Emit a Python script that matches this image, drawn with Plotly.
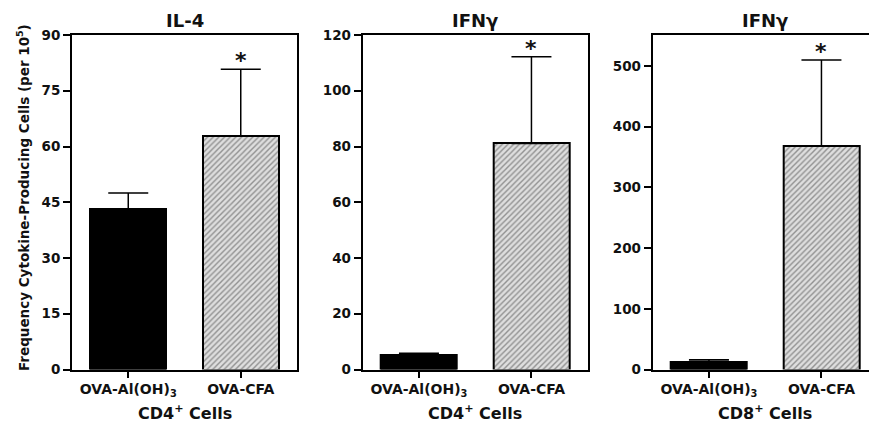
import plotly.graph_objects as go

# ---- data ----
groups = ["OVA-Al(OH)<sub>3</sub>", "OVA-CFA"]
panel_titles = ["IL-4", "IFN\u03b3", "IFN\u03b3"]
cell_types = ["CD4<sup>+</sup> Cells", "CD4<sup>+</sup> Cells", "CD8<sup>+</sup> Cells"]
il4_cd4 = [43.2, 62.8]
il4_cd4_err = [4.3, 18.0]
ifng_cd4 = [5.2, 81.1]
ifng_cd4_err = [0.6, 31.1]
ifng_cd8 = [13.0, 368.0]
ifng_cd8_err = [3.0, 142.0]
significance = ["", "*"]
y_max = [90, 120, 551]
y_ticks = [[0, 15, 30, 45, 60, 75, 90],
           [0, 20, 40, 60, 80, 100, 120],
           [0, 100, 200, 300, 400, 500]]
y_title = "Frequency Cytokine-Producing Cells (per 10<sup>5</sup>)"

values = [il4_cd4, ifng_cd4, ifng_cd8]
errors = [il4_cd4_err, ifng_cd4_err, ifng_cd8_err]

W, H = 869, 428
FONT = "DejaVu Sans"
px_left = [72, 362.7, 652.7]
px_right = [297, 588, 869]
top_px, bot_px = 35, 369.5
unit_px = 112.5

fig = go.Figure()
xpos = [0, 1]
for i in range(3):
    sfx = "" if i == 0 else str(i + 1)
    fig.add_trace(go.Bar(
        x=xpos, y=values[i],
        width=0.675,
        marker=dict(
            color=["black", "#dedede"],
            line=dict(color="black", width=2),
            pattern=dict(shape=["", "/"], fgcolor="#444444", bgcolor="#dedede",
                         size=4, solidity=0.35),
        ),
        error_y=dict(type="data", array=errors[i], arrayminus=[0, 0], symmetric=False,
                     color="black", thickness=1.5, width=20),
        xaxis="x" + sfx, yaxis="y" + sfx, showlegend=False,
    ))
    rng_end = -0.5 + (px_right[i] - px_left[i]) / unit_px
    dom = [px_left[i] / W, px_right[i] / W]
    xa = dict(domain=dom, range=[-0.5, rng_end], tickvals=xpos, ticktext=groups,
              showline=True, linecolor="black", linewidth=2, mirror=True,
              ticks="outside", ticklen=6, tickwidth=2, tickcolor="black",
              tickfont=dict(family=FONT, size=14, color="#111", weight="bold"),
              anchor="y" + sfx, fixedrange=True, showgrid=False, zeroline=False,
              automargin=False)
    ya = dict(domain=[(H - bot_px) / H, (H - top_px) / H], range=[0, y_max[i]],
              tickvals=y_ticks[i], showline=True, linecolor="black", linewidth=2,
              mirror=(i < 2), ticks="outside", ticklen=7, tickwidth=2, tickcolor="black",
              tickfont=dict(family=FONT, size=13.5, color="#111", weight="bold"),
              anchor="x" + sfx, showgrid=False, zeroline=False, fixedrange=True,
              automargin=False)
    fig.update_layout(**{"xaxis" + sfx: xa, "yaxis" + sfx: ya})

    cx = (px_left[i] + unit_px) / W
    fig.add_annotation(text=panel_titles[i], x=cx, y=(H - 20) / H, xref="paper", yref="paper",
                       xanchor="center", yanchor="middle", showarrow=False,
                       font=dict(family=FONT, size=18, color="#111", weight="bold"))
    fig.add_annotation(text=cell_types[i], x=cx, y=(H - 412) / H, xref="paper", yref="paper",
                       xanchor="center", yanchor="middle", showarrow=False,
                       font=dict(family=FONT, size=16, color="#111", weight="bold"))
    for j in range(2):
        if significance[j]:
            fig.add_annotation(text=significance[j], x=xpos[j], y=values[i][j] + errors[i][j],
                               xref="x" + sfx, yref="y" + sfx, showarrow=False,
                               xanchor="center", yanchor="bottom", yshift=-6,
                               font=dict(family=FONT, size=22, color="#111", weight="bold"))

fig.add_annotation(text=y_title, x=23 / W, y=(H - 198) / H, xref="paper", yref="paper",
                   xanchor="center", yanchor="middle", showarrow=False, textangle=-90,
                   font=dict(family=FONT, size=13.5, color="#111", weight="bold"))

fig.update_layout(width=W, height=H, margin=dict(l=0, r=0, t=0, b=0, autoexpand=False),
                  paper_bgcolor="white", plot_bgcolor="white", bargap=0)
fig.write_html("out.html")
